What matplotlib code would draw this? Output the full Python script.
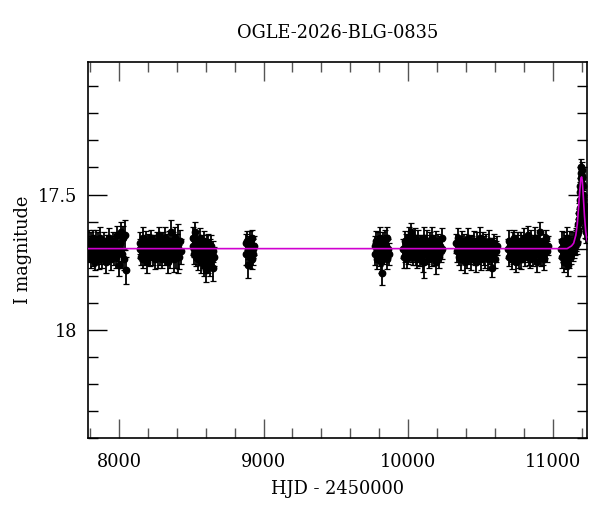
import matplotlib
matplotlib.use('Agg')
import matplotlib.pyplot as plt
from matplotlib.ticker import MultipleLocator, FixedLocator

title = "OGLE-2026-BLG-0835"
xlabel = "HJD - 2450000"
ylabel = "I magnitude"

s1_t = [7786,7791,7795,7800,7805,7809,7814,7818,7823,7828,7832,7837,7842,7846,7851,7856,7861,7865,7870,7875,7880,7886,7891,7897,7903,7908,7914,7920,7926,7932,7938,7944,7950,7957,7963,7970,7977,7984,7991,7998,8005,8012,8019,8026,8033,8040,8052]
s1_m = [17.69,17.72,17.67,17.71,17.74,17.68,17.70,17.66,17.73,17.70,17.75,17.69,17.67,17.72,17.71,17.68,17.74,17.70,17.66,17.72,17.69,17.73,17.71,17.67,17.70,17.75,17.68,17.72,17.69,17.66,17.71,17.74,17.70,17.67,17.72,17.69,17.73,17.65,17.70,17.76,17.68,17.64,17.72,17.66,17.74,17.65,17.78]
s1_e = [0.035,0.03,0.04,0.035,0.03,0.04,0.035,0.03,0.035,0.04,0.03,0.035,0.04,0.03,0.035,0.04,0.035,0.03,0.04,0.035,0.03,0.04,0.035,0.03,0.035,0.04,0.03,0.035,0.04,0.035,0.03,0.04,0.035,0.03,0.04,0.035,0.04,0.035,0.045,0.04,0.035,0.04,0.05,0.045,0.04,0.055,0.05]

s2_t = [8142,8147,8152,8158,8163,8168,8174,8179,8185,8190,8196,8201,8207,8212,8218,8224,8229,8235,8240,8246,8252,8257,8263,8269,8274,8280,8286,8291,8297,8303,8309,8315,8320,8326,8332,8338,8344,8350,8356,8362,8368,8374,8380,8386,8393,8400,8406,8412,8420,8428]
s2_m = [17.70,17.68,17.73,17.71,17.66,17.74,17.69,17.72,17.67,17.70,17.75,17.68,17.71,17.69,17.73,17.66,17.70,17.72,17.68,17.74,17.69,17.71,17.67,17.73,17.70,17.65,17.72,17.69,17.74,17.68,17.71,17.66,17.73,17.70,17.69,17.75,17.67,17.72,17.70,17.64,17.71,17.68,17.74,17.66,17.72,17.69,17.70,17.73,17.67,17.71]
s2_e = [0.035,0.04,0.03,0.035,0.04,0.03,0.035,0.04,0.035,0.03,0.04,0.035,0.03,0.04,0.035,0.03,0.035,0.04,0.03,0.035,0.04,0.035,0.03,0.04,0.035,0.03,0.04,0.035,0.03,0.04,0.035,0.04,0.03,0.035,0.045,0.04,0.035,0.05,0.04,0.045,0.035,0.04,0.045,0.04,0.05,0.045,0.09,0.045,0.04,0.045]

s3_t = [8510,8514,8518,8522,8526,8530,8534,8538,8542,8546,8550,8554,8558,8562,8566,8570,8574,8578,8582,8586,8590,8594,8598,8603,8607,8611,8615,8619,8623,8627,8631,8635,8639,8643,8647,8652,8657]
s3_m = [17.69,17.66,17.72,17.70,17.64,17.73,17.68,17.71,17.67,17.74,17.70,17.69,17.72,17.66,17.75,17.71,17.68,17.73,17.70,17.76,17.67,17.72,17.74,17.78,17.69,17.71,17.75,17.68,17.73,17.70,17.76,17.72,17.69,17.74,17.77,17.71,17.73]
s3_e = [0.035,0.04,0.035,0.03,0.04,0.035,0.04,0.03,0.035,0.04,0.035,0.03,0.04,0.035,0.04,0.035,0.03,0.04,0.035,0.04,0.035,0.04,0.035,0.045,0.04,0.035,0.04,0.035,0.04,0.035,0.04,0.035,0.04,0.035,0.05,0.04,0.035]

s4_t = [8878,8882,8886,8890,8895,8899,8903,8908,8912,8917,8921,8926,8930,8934]
s4_m = [17.68,17.72,17.67,17.70,17.76,17.69,17.73,17.67,17.71,17.74,17.66,17.70,17.72,17.69]
s4_e = [0.035,0.04,0.035,0.04,0.05,0.035,0.04,0.035,0.04,0.035,0.03,0.035,0.04,0.035]

s5_t = [9768,9773,9778,9783,9788,9793,9798,9803,9808,9813,9818,9822,9827,9832,9837,9842,9847,9852,9857,9862,9867]
s5_m = [17.69,17.72,17.67,17.71,17.74,17.68,17.70,17.66,17.73,17.75,17.79,17.70,17.68,17.72,17.67,17.71,17.69,17.74,17.66,17.70,17.72]
s5_e = [0.035,0.04,0.035,0.04,0.035,0.04,0.035,0.04,0.035,0.04,0.045,0.035,0.04,0.035,0.04,0.035,0.04,0.035,0.04,0.035,0.04]

s6_t = [9964,9969,9975,9980,9986,9991,9997,10002,10008,10013,10019,10024,10030,10035,10041,10046,10052,10057,10063,10068,10074,10079,10085,10090,10096,10101,10107,10112,10118,10123,10129,10134,10140,10145,10151,10156,10162,10167,10173,10178,10184,10190,10195,10201,10207,10213,10219,10225,10231,10237]
s6_m = [17.70,17.73,17.67,17.71,17.68,17.74,17.69,17.72,17.66,17.70,17.64,17.71,17.68,17.73,17.69,17.66,17.72,17.70,17.74,17.67,17.71,17.69,17.73,17.68,17.70,17.75,17.66,17.75,17.71,17.69,17.72,17.67,17.70,17.74,17.68,17.71,17.66,17.73,17.69,17.70,17.72,17.67,17.75,17.70,17.68,17.73,17.69,17.71,17.66,17.70]
s6_e = [0.035,0.04,0.035,0.04,0.035,0.03,0.04,0.035,0.04,0.035,0.035,0.04,0.035,0.03,0.04,0.035,0.04,0.035,0.03,0.04,0.035,0.04,0.035,0.03,0.04,0.035,0.04,0.06,0.035,0.04,0.035,0.04,0.035,0.03,0.04,0.035,0.04,0.035,0.04,0.035,0.04,0.035,0.045,0.04,0.035,0.04,0.035,0.04,0.035,0.04]

s7_t = [10333,10338,10344,10349,10355,10360,10366,10371,10377,10382,10388,10394,10399,10405,10410,10416,10422,10427,10433,10438,10444,10450,10455,10461,10466,10472,10478,10483,10489,10494,10500,10506,10511,10517,10522,10528,10534,10539,10545,10550,10556,10562,10567,10573,10578,10582,10588,10594,10600,10607,10612]
s7_m = [17.68,17.71,17.66,17.73,17.70,17.69,17.74,17.67,17.72,17.70,17.68,17.75,17.71,17.69,17.73,17.66,17.70,17.72,17.68,17.74,17.69,17.71,17.67,17.73,17.70,17.75,17.68,17.72,17.69,17.66,17.71,17.74,17.70,17.67,17.72,17.69,17.73,17.68,17.70,17.74,17.71,17.67,17.72,17.69,17.73,17.77,17.70,17.68,17.74,17.71,17.69]
s7_e = [0.035,0.04,0.035,0.03,0.04,0.035,0.04,0.035,0.03,0.04,0.035,0.04,0.035,0.03,0.04,0.035,0.04,0.035,0.03,0.04,0.035,0.04,0.035,0.03,0.04,0.035,0.04,0.035,0.03,0.04,0.035,0.04,0.035,0.03,0.04,0.035,0.04,0.035,0.03,0.04,0.035,0.04,0.035,0.03,0.04,0.035,0.04,0.035,0.03,0.04,0.035]

s8_t = [10690,10695,10701,10706,10712,10717,10723,10728,10734,10739,10745,10750,10756,10761,10767,10772,10778,10783,10789,10794,10800,10805,10811,10816,10822,10827,10833,10838,10844,10849,10855,10860,10866,10871,10877,10882,10888,10893,10899,10904,10910,10915,10921,10926,10932,10937,10943,10949,10955,10961,10966]
s8_m = [17.70,17.67,17.73,17.69,17.71,17.74,17.68,17.72,17.66,17.70,17.75,17.69,17.71,17.67,17.73,17.70,17.68,17.74,17.72,17.69,17.66,17.71,17.73,17.68,17.70,17.65,17.72,17.69,17.74,17.67,17.71,17.70,17.73,17.68,17.66,17.72,17.69,17.75,17.70,17.67,17.71,17.64,17.73,17.69,17.72,17.68,17.74,17.70,17.66,17.71,17.69]
s8_e = [0.035,0.04,0.035,0.03,0.04,0.035,0.04,0.035,0.03,0.04,0.035,0.04,0.035,0.03,0.04,0.035,0.04,0.035,0.03,0.04,0.035,0.04,0.035,0.03,0.04,0.035,0.04,0.035,0.03,0.04,0.035,0.04,0.035,0.03,0.04,0.035,0.04,0.035,0.03,0.04,0.035,0.04,0.035,0.03,0.04,0.035,0.04,0.035,0.03,0.04,0.035]

s9_t = [11058,11062,11067,11071,11076,11080,11085,11089,11094,11098,11103,11107,11112,11116,11121,11125,11130,11135,11140]
s9_m = [17.70,17.73,17.67,17.71,17.75,17.68,17.72,17.69,17.74,17.66,17.71,17.76,17.69,17.73,17.67,17.70,17.72,17.68,17.71]
s9_e = [0.035,0.04,0.035,0.04,0.035,0.04,0.035,0.04,0.035,0.04,0.035,0.04,0.035,0.04,0.035,0.04,0.035,0.04,0.035]

ev_t = [11145,11150,11155,11160,11163,11166,11169,11172,11175,11178,11181,11184,11186,11188,11190,11192,11194,11196,11198,11200,11202,11204,11206,11208,11210,11212,11214,11216,11218,11220,11223,11226,11229,11232]
ev_m = [17.70,17.68,17.69,17.67,17.66,17.68,17.65,17.63,17.64,17.61,17.59,17.57,17.55,17.52,17.49,17.47,17.44,17.42,17.40,17.41,17.43,17.44,17.46,17.47,17.50,17.52,17.54,17.55,17.57,17.58,17.60,17.62,17.63,17.64]
ev_e = [0.035,0.04,0.035,0.04,0.035,0.04,0.035,0.04,0.035,0.04,0.035,0.04,0.035,0.04,0.035,0.03,0.035,0.03,0.03,0.03,0.03,0.035,0.03,0.035,0.03,0.035,0.03,0.035,0.035,0.04,0.035,0.04,0.035,0.04]

model_t = [7780,11100,11130,11145,11160,11170,11180,11188,11195,11200,11205,11212,11220,11228,11236,11245]
model_m = [17.70,17.70,17.69,17.68,17.65,17.61,17.54,17.48,17.44,17.435,17.45,17.51,17.58,17.635,17.665,17.68]

seasons = [(s1_t, s1_m, s1_e), (s2_t, s2_m, s2_e), (s3_t, s3_m, s3_e),
           (s4_t, s4_m, s4_e), (s5_t, s5_m, s5_e), (s6_t, s6_m, s6_e),
           (s7_t, s7_m, s7_e), (s8_t, s8_m, s8_e), (s9_t, s9_m, s9_e),
           (ev_t, ev_m, ev_e)]

plt.rcParams['font.family'] = ['DejaVu Serif']
plt.rcParams['mathtext.fontset'] = 'dejavuserif'

FS = 12.8

fig = plt.figure(figsize=(6, 5.12), dpi=100)
ax = fig.add_axes([0.146, 0.1445, 0.833, 0.7345])

for t, m, e in seasons:
    n = min(len(t), len(m), len(e))
    eb = ax.errorbar(t[:n], m[:n], yerr=e[:n], fmt='o', ms=4.6, mfc='k', mec='k',
                     ecolor='k', elinewidth=1.3, capsize=2.4, capthick=0.9, zorder=2)
    for c in eb[1]:
        c.set_color('#333333')

ax.plot(model_t, model_m, color='#d000d0', lw=1.2, zorder=3)

ax.set_xlim(7783, 11240)
ax.set_ylim(18.40, 17.01)

ax.xaxis.set_major_locator(MultipleLocator(1000))
ax.xaxis.set_minor_locator(MultipleLocator(200))
ax.yaxis.set_major_locator(FixedLocator([17.5, 18.0]))
ax.yaxis.set_minor_locator(MultipleLocator(0.1))
ax.set_yticklabels(['17.5', '18'])

ax.tick_params(axis='both', which='both', direction='in', top=True, right=True)
ax.tick_params(axis='both', which='major', length=14, width=1.0)
ax.tick_params(axis='both', which='minor', length=7, width=1.0)
ax.tick_params(axis='x', which='both', color='#555555', pad=11, labelsize=FS)
ax.tick_params(axis='y', which='both', color='black', pad=7.5, labelsize=FS)
for s in ax.spines.values():
    s.set_linewidth(1.2)

ax.set_title(title, fontsize=FS, pad=17)
ax.set_xlabel(xlabel, fontsize=FS, labelpad=6)
ax.set_ylabel(ylabel, fontsize=FS, labelpad=4)

fig.savefig('out.png', dpi=100)
